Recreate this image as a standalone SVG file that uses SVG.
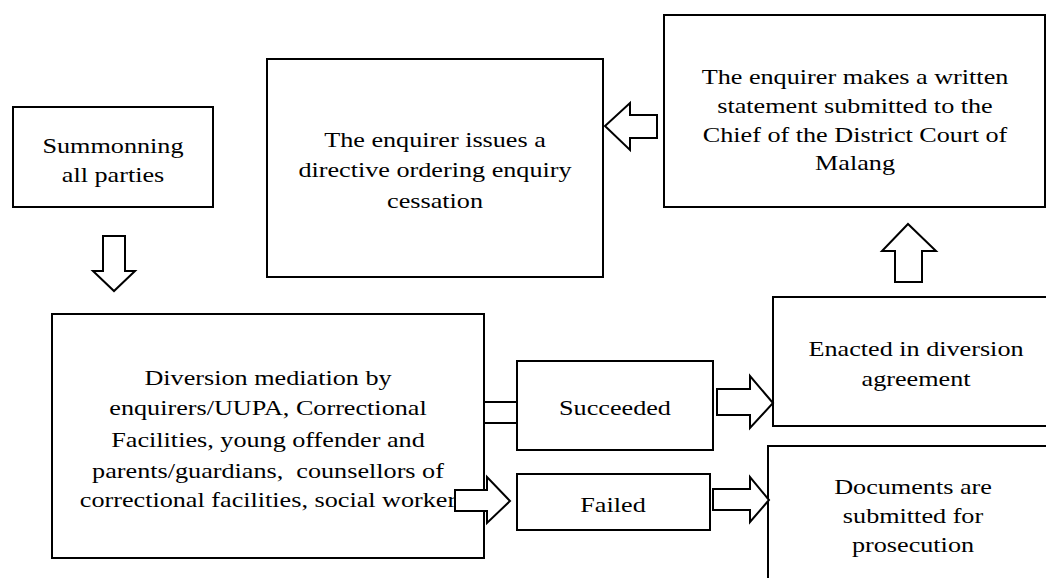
<svg xmlns="http://www.w3.org/2000/svg" width="1046" height="578" viewBox="0 0 1046 578">
<style>
.box{fill:#fff;stroke:#000;stroke-width:2}
.arr{fill:#fff;stroke:#000;stroke-width:2;stroke-linejoin:miter}
.t{font-family:'Liberation Serif','Times New Roman',Times,serif;font-size:22px;fill:#000;text-anchor:middle}
</style>
<rect width="1046" height="578" fill="#fff"/>
<g id="summon" font-family="Liberation Serif, serif">
<rect class="box" x="13" y="107" width="200" height="100"/>
<text class="t" transform="translate(113,0) scale(1.19,1)" x="0" y="153">Summonning</text>
<text class="t" transform="translate(113,0) scale(1.19,1)" x="0" y="182">all parties</text>
</g>
<g id="cessation">
<rect class="box" x="267" y="59" width="336" height="218"/>
<text class="t" transform="translate(435,0) scale(1.19,1)" x="0" y="147">The enquirer issues a</text>
<text class="t" transform="translate(435,0) scale(1.19,1)" x="0" y="177">directive ordering enquiry</text>
<text class="t" transform="translate(435,0) scale(1.19,1)" x="0" y="208">cessation</text>
</g>
<g id="statement">
<rect class="box" x="664" y="15" width="381" height="192"/>
<text class="t" transform="translate(855,0) scale(1.19,1)" x="0" y="84">The enquirer makes a written</text>
<text class="t" transform="translate(855,0) scale(1.19,1)" x="0" y="113">statement submitted to the</text>
<text class="t" transform="translate(855,0) scale(1.19,1)" x="0" y="142">Chief of the District Court of</text>
<text class="t" transform="translate(855,0) scale(1.19,1)" x="0" y="170">Malang</text>
</g>
<g id="mediation">
<rect class="box" x="52" y="314" width="432" height="244"/>
<text class="t" transform="translate(268,0) scale(1.19,1)" x="0" y="385">Diversion mediation by</text>
<text class="t" transform="translate(268,0) scale(1.19,1)" x="0" y="415">enquirers/UUPA, Correctional</text>
<text class="t" transform="translate(268,0) scale(1.19,1)" x="0" y="447">Facilities, young offender and</text>
<text class="t" transform="translate(268,0) scale(1.19,1)" x="0" y="478" xml:space="preserve">parents/guardians,  counsellors of</text>
<text class="t" transform="translate(268,0) scale(1.19,1)" x="0" y="507">correctional facilities, social worker</text>
</g>
<g id="succeeded">
<rect class="box" x="517" y="361" width="196" height="89"/>
<text class="t" transform="translate(615,0) scale(1.19,1)" x="0" y="415">Succeeded</text>
</g>
<g id="failed">
<rect class="box" x="517" y="474" width="193" height="56"/>
<text class="t" transform="translate(613,0) scale(1.19,1)" x="0" y="512">Failed</text>
</g>
<g id="enacted">
<rect class="box" x="773" y="297" width="290" height="129"/>
<text class="t" transform="translate(916,0) scale(1.19,1)" x="0" y="356">Enacted in diversion</text>
<text class="t" transform="translate(916,0) scale(1.19,1)" x="0" y="386">agreement</text>
</g>
<g id="documents">
<rect class="box" x="768" y="446" width="295" height="150"/>
<text class="t" transform="translate(913,0) scale(1.19,1)" x="0" y="494">Documents are</text>
<text class="t" transform="translate(913,0) scale(1.19,1)" x="0" y="523">submitted for</text>
<text class="t" transform="translate(913,0) scale(1.19,1)" x="0" y="552">prosecution</text>
</g>
<g id="connectors">
<polygon class="arr" points="103,236 125,236 125,271 135,271 114,291 93,271 103,271"/>
<polygon class="arr" points="657,115 657,138 630,138 630,150 605,126 630,103 630,115"/>
<polygon class="arr" points="895,282 922,282 922,251 936,251 908,224 882,251 895,251"/>
<rect class="arr" x="484" y="402" width="33" height="21"/>
<polygon class="arr" points="717,389 750,389 750,376 773,403 750,428 750,415 717,415"/>
<polygon class="arr" points="455,490 487,490 487,477 510,501 487,523 487,511 455,511"/>
<polygon class="arr" points="713,489 750,489 750,477 769,500 750,522 750,510 713,510"/>
</g>
</svg>
